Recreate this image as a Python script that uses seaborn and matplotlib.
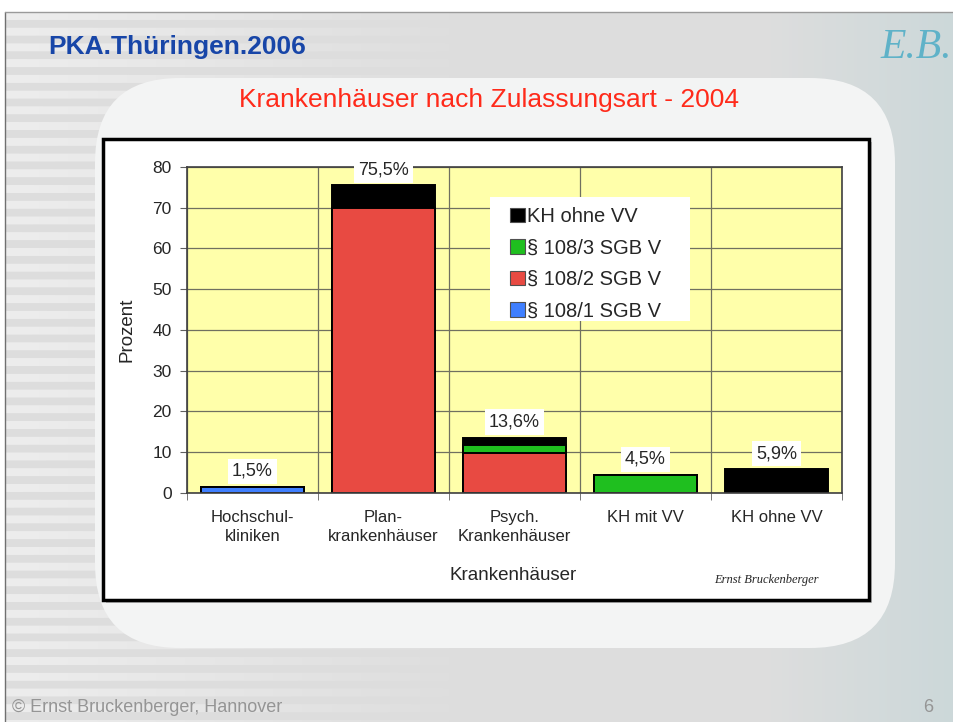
import numpy as np
import pandas as pd
import matplotlib
matplotlib.use("Agg")
import matplotlib.pyplot as plt
import seaborn as sns
from matplotlib.patches import Rectangle, FancyBboxPatch, Patch

# --- Daten ---
kategorien = ["Hochschul-\nkliniken", "Plan-\nkrankenhäuser", "Psych.\nKrankenhäuser",
              "KH mit VV", "KH ohne VV"]
sgb_108_1 = [1.5, 0.0, 0.0, 0.0, 0.0]
sgb_108_2 = [0.0, 70.0, 9.9, 0.0, 0.0]
sgb_108_3 = [0.0, 0.0, 2.0, 4.5, 0.0]
kh_ohne_vv = [0.0, 5.5, 1.7, 0.0, 5.9]
serien_namen = ["§ 108/1 SGB V", "§ 108/2 SGB V", "§ 108/3 SGB V", "KH ohne VV"]
y_ticks = [0, 10, 20, 30, 40, 50, 60, 70, 80]

farben = {"§ 108/1 SGB V": "#3f7fff", "§ 108/2 SGB V": "#e84a42",
          "§ 108/3 SGB V": "#1fbf1f", "KH ohne VV": "#000000"}

df = pd.DataFrame({"kategorie": kategorien,
                   "§ 108/1 SGB V": sgb_108_1, "§ 108/2 SGB V": sgb_108_2,
                   "§ 108/3 SGB V": sgb_108_3, "KH ohne VV": kh_ohne_vv})
kum = df[serien_namen].cumsum(axis=1)
summen = kum["KH ohne VV"].round(1)

sns.set_style("ticks")
plt.rcParams["font.family"] = ["Liberation Sans", "DejaVu Sans"]

W, H = 954, 722
fig = plt.figure(figsize=(W / 100, H / 100), dpi=100)

# --- Hintergrund der Folie ---
bg = fig.add_axes([0, 0, 1, 1], zorder=-10)
bg.set_xlim(0, W)
bg.set_ylim(H, 0)
bg.axis("off")
yy, xx = np.mgrid[0:H, 0:W]
base = np.full((H, W, 3), 0.87)
streifen = ((yy // 8) % 2 == 0) * np.clip(1 - xx / 450, 0, 1) * 0.06
base += streifen[..., None]
teal = np.clip((xx - 760) / 200, 0, 1) * 0.6
base[..., 0] -= teal * 0.12
base[..., 1] -= teal * 0.04
base[..., 2] -= teal * 0.03
base = np.clip(base, 0, 1)
bg.imshow(base, extent=(5, W, H, 12), aspect="auto", zorder=0)
bg.add_patch(Rectangle((0, 0), W, 12, facecolor="white", edgecolor="none", zorder=1))
bg.plot([5, 5], [12, H], color="#707070", lw=1, zorder=2)
bg.plot([5, W], [12, 12], color="#9a9a9a", lw=1, zorder=2)
bg.add_patch(FancyBboxPatch((95, 78), 800, 570, boxstyle="round,pad=0,rounding_size=85",
                            facecolor="#f3f4f4", edgecolor="none", zorder=3))
bg.add_patch(Rectangle((106, 142), 766, 461, facecolor="#c0c0c0", edgecolor="none", zorder=4))
bg.add_patch(Rectangle((103, 139), 766, 461, facecolor="white", edgecolor="black", lw=2.5, zorder=5))

bg.text(48, 47, "PKA.Thüringen.2006", fontsize=19, fontweight="bold", color="#1846a8",
        va="center", ha="left", zorder=6)
bg.text(489, 100, "Krankenhäuser nach Zulassungsart - 2004", fontsize=19, color="#ff2a1a",
        va="center", ha="center", zorder=6)
bg.text(880, 48, "E.B.", fontsize=30, color="#5fb2c8", style="italic",
        family=["Liberation Serif", "DejaVu Serif"], va="center", ha="left", zorder=6)
bg.text(766, 580, "Ernst Bruckenberger", fontsize=9, style="italic",
        family=["Liberation Serif", "DejaVu Serif"], va="center", ha="center", zorder=6)
bg.text(12, 707, "© Ernst Bruckenberger, Hannover", fontsize=13, color="#959595",
        va="center", ha="left", zorder=6)
bg.text(928, 707, "6", fontsize=13, color="#959595", va="center", ha="center", zorder=6)

# --- Diagramm ---
ax = fig.add_axes([187 / W, (H - 493) / H, 655 / W, 326 / H], zorder=1)
ax.set_facecolor("#ffffaa")

# gestapelte Balken: kumulierte Summen von oben nach unten übereinander zeichnen
for name in reversed(serien_namen):
    sns.barplot(x=df["kategorie"], y=kum[name], color=farben[name], saturation=1,
                width=0.78, edgecolor="black", linewidth=1.4, errorbar=None,
                order=kategorien, ax=ax)

for i, s in enumerate(summen):
    ax.annotate(f"{s:.1f}%".replace(".", ","), (i, s), xytext=(0, 5),
                textcoords="offset points", ha="center", va="bottom", fontsize=13,
                bbox=dict(facecolor="white", edgecolor="none", pad=3), zorder=6,
                annotation_clip=False)

ax.set_xlim(-0.5, len(kategorien) - 0.5)
ax.set_ylim(0, 80)
ax.set_yticks(y_ticks)
ax.set_xticks(range(len(kategorien)))
ax.set_xticklabels(kategorien, fontsize=12, linespacing=1.35)
ax.set_xticks(np.arange(-0.5, len(kategorien)), minor=True)
ax.tick_params(axis="x", which="major", length=0, pad=12)
ax.tick_params(axis="x", which="minor", length=5, color="#606060", direction="out")
ax.tick_params(axis="y", labelsize=12.5, length=5, color="#606060", pad=6)
ax.set_axisbelow(True)
ax.grid(axis="y", which="major", color="#707060", lw=0.9)
ax.grid(axis="x", which="minor", color="#707060", lw=0.9)
for sp in ax.spines.values():
    sp.set_color("#404040")
    sp.set_linewidth(1.2)

ax.set_ylabel("Prozent", fontsize=13.5)
ax.set_xlabel("Krankenhäuser", fontsize=13.5)
ax.yaxis.set_label_coords(-(187 - 136) / 655, 0.5)
ax.xaxis.set_label_coords(0.498, -(567 - 493) / 326)

# weißer Legendenkasten
ax.add_patch(Rectangle(((490 - 187) / 655, (493 - 321) / 326), 200 / 655, 124 / 326,
                       transform=ax.transAxes, facecolor="white", edgecolor="none", zorder=4))
handles = [Patch(facecolor=farben[n], edgecolor="#505050", lw=0.8) for n in reversed(serien_namen)]
leg = ax.legend(handles, list(reversed(serien_namen)), loc="upper left",
                bbox_to_anchor=((510 - 187) / 655, (493 - 207) / 326), fontsize=14.5,
                frameon=False, handlelength=0.75, handleheight=0.75, handletextpad=0.1,
                labelspacing=0.62, borderpad=0, borderaxespad=0)
leg.set_zorder(5)

fig.savefig("out.png", dpi=100)
